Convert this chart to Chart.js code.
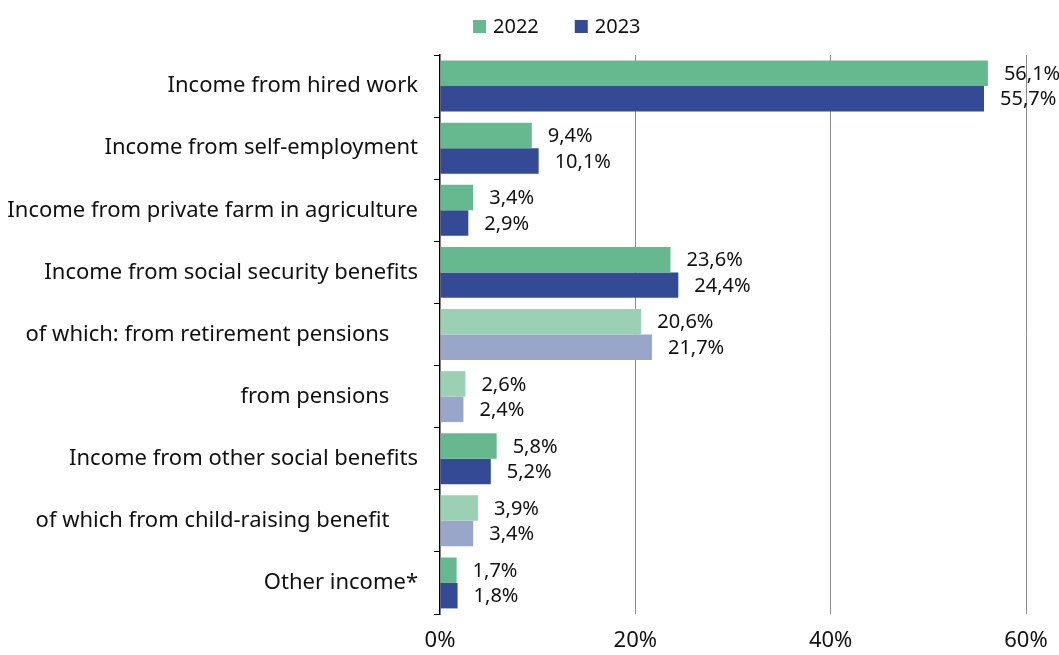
<!DOCTYPE html>
<html>
<head>
<meta charset="utf-8">
<script src="https://cdn.jsdelivr.net/npm/chart.js@4.4.1/dist/chart.umd.min.js"></script>
<style>
  html, body { margin: 0; padding: 0; background: #fff; }
  #wrap { width: 1059px; height: 655px; position: relative; }
</style>
</head>
<body>
<div id="wrap"><canvas id="chart"></canvas></div>
<script>
// Structure of household income, shares in %
const INDENT = '\u00a0'.repeat(5);
const categories = [
  'Income from hired work',
  'Income from self-employment',
  'Income from private farm in agriculture',
  'Income from social security benefits',
  'of which: from retirement pensions' + INDENT,
  'from pensions' + INDENT,
  'Income from other social benefits',
  'of which from child-raising benefit' + INDENT,
  'Other income*'
];
const values2022 = [56.1, 9.4, 3.4, 23.6, 20.6, 2.6, 5.8, 3.9, 1.7];
const values2023 = [55.7, 10.1, 2.9, 24.4, 21.7, 2.4, 5.2, 3.4, 1.8];
// sub-items ("of which") get the lighter shade
const subItem = [false, false, false, false, true, true, false, true, false];
const xTicks = [0, 20, 40, 60];

const GREEN = '#66b88f', GREEN_LIGHT = '#9bd0b4';
const NAVY = '#344a94', NAVY_LIGHT = '#9aa6c9';
const FONT = '"Noto Sans", "Open Sans", sans-serif';

const fmt = v => v.toFixed(1).replace('.', ',') + '%';

// value labels to the right of each bar
const barLabels = {
  id: 'barLabels',
  afterDatasetsDraw(chart) {
    const ctx = chart.ctx;
    ctx.save();
    ctx.font = '20px ' + FONT;
    ctx.fillStyle = '#111';
    ctx.textAlign = 'left';
    ctx.textBaseline = 'middle';
    chart.data.datasets.forEach((ds, i) => {
      chart.getDatasetMeta(i).data.forEach((bar, j) => {
        ctx.fillText(fmt(ds.data[j]), bar.x + 16, bar.y + 1);
      });
    });
    ctx.restore();
  }
};

// legend drawn by hand so it can sit over the plot area
const topLegend = {
  id: 'topLegend',
  afterDraw(chart) {
    const ctx = chart.ctx;
    ctx.save();
    ctx.font = '20px ' + FONT;
    ctx.textBaseline = 'middle';
    let x = 473;
    const y = 27;
    chart.data.datasets.forEach(ds => {
      ctx.fillStyle = ds.legendColor;
      ctx.fillRect(x, y - 7, 13, 13);
      ctx.fillStyle = '#111';
      ctx.fillText(ds.label, x + 20, y);
      x += 20 + ctx.measureText(ds.label).width + 36;
    });
    ctx.restore();
  }
};

new Chart(document.getElementById('chart'), {
  type: 'bar',
  data: {
    labels: categories,
    datasets: [
      {
        label: '2022',
        data: values2022,
        legendColor: GREEN,
        backgroundColor: subItem.map(s => s ? GREEN_LIGHT : GREEN),
        borderWidth: 0,
        barPercentage: 1,
        categoryPercentage: 0.82
      },
      {
        label: '2023',
        data: values2023,
        legendColor: NAVY,
        backgroundColor: subItem.map(s => s ? NAVY_LIGHT : NAVY),
        borderWidth: 0,
        barPercentage: 1,
        categoryPercentage: 0.82
      }
    ]
  },
  options: {
    indexAxis: 'y',
    responsive: true,
    maintainAspectRatio: false,
    animation: false,
    layout: { padding: { top: 55, right: 33, left: 0, bottom: 0 } },
    plugins: {
      legend: { display: false },
      tooltip: { enabled: false }
    },
    scales: {
      x: {
        min: 0,
        max: 60,
        afterBuildTicks(scale) { scale.ticks = xTicks.map(v => ({ value: v })); },
        afterFit(scale) {
          scale.height = 41;
          scale.paddingLeft = 0;
          scale.paddingRight = 0;
        },
        border: { display: false },
        grid: {
          color: ctx => ctx.tick && ctx.tick.value === 0 ? 'rgba(0,0,0,0)' : '#8a8a8a',
          lineWidth: 1,
          drawTicks: false
        },
        ticks: {
          padding: 14,
          color: '#111',
          font: { family: FONT, size: 22 },
          callback: v => v + '%'
        }
      },
      y: {
        afterFit(scale) { scale.width = 440; },
        border: { display: true, color: '#000', width: 1.5 },
        grid: {
          offset: true,
          drawOnChartArea: false,
          drawTicks: true,
          tickLength: 6,
          color: '#000'
        },
        ticks: {
          padding: 16,
          color: '#111',
          font: { family: FONT, size: 22 }
        }
      }
    }
  },
  plugins: [barLabels, topLegend]
});
</script>
</body>
</html>
